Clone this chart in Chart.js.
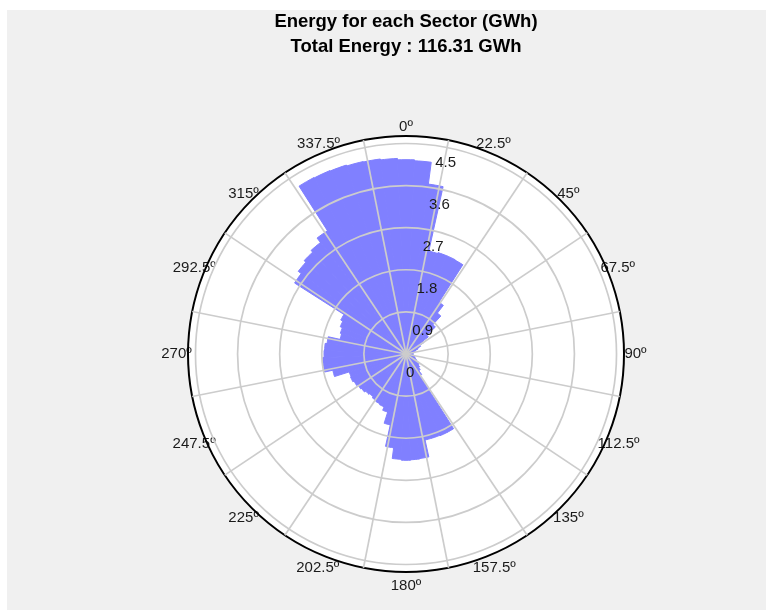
<!doctype html>
<html lang="en">
<head>
  <meta charset="utf-8">
  <title>Energy for each Sector (GWh)</title>
  <script src="https://cdn.jsdelivr.net/npm/chart.js"></script>
  <style>
    html, body { margin: 0; padding: 0; background: #ffffff; }
    #bg { position: absolute; left: 7px; top: 10px; width: 759px; height: 600px; background: #f0f0f0; }
    #wrap { position: absolute; left: 0; top: 0; width: 766px; height: 610px; }
  </style>
</head>
<body>
<div id="bg"></div>
<div id="wrap"><canvas id="rose" width="766" height="610"></canvas></div>
<script>
// 5 degree sectors, clockwise from north
const sectorDeg = [0, 5, 10, 15, 20, 25, 30, 35, 40, 45, 50, 55,
  60, 65, 70, 75, 80, 85, 90, 95, 100, 105, 110, 115,
  120, 125, 130, 135, 140, 145, 150, 155, 160, 165, 170, 175,
  180, 185, 190, 195, 200, 205, 210, 215, 220, 225, 230, 235,
  240, 245, 250, 255, 260, 265, 270, 275, 280, 285, 290, 295,
  300, 305, 310, 315, 320, 325, 330, 335, 340, 345, 350, 355];

// energy per sector (GWh)
const energy = [4.15, 4.13, 3.66, 2.25, 2.27, 2.27, 2.26, 1.31, 1.10, 0.85, 0.60, 0.45,
  0.35, 0.28, 0.22, 0.18, 0.16, 0.15, 0.15, 0.15, 0.16, 0.18, 0.20, 0.22,
  0.25, 0.30, 0.35, 0.40, 0.45, 0.55, 1.89, 1.89, 1.88, 1.88, 2.25, 2.26,
  2.27, 2.25, 2.02, 1.55, 1.30, 1.22, 1.20, 1.18, 1.15, 1.17, 1.20, 1.22,
  1.25, 1.28, 1.27, 1.60, 1.78, 1.78, 1.75, 1.74, 1.70, 1.44, 1.47, 1.52,
  1.57, 2.82, 2.90, 2.95, 3.00, 3.12, 4.25, 4.24, 4.23, 4.21, 4.20, 4.18];

const dirLabels = ['0º', '22.5º', '45º', '67.5º', '90º', '112.5º', '135º', '157.5º',
  '180º', '202.5º', '225º', '247.5º', '270º', '292.5º', '315º', '337.5º'];
const ringTicks = [0, 0.9, 1.8, 2.7, 3.6, 4.5];
const titleLines = ['Energy for each Sector (GWh)', 'Total Energy : 116.31 GWh'];

const rMin = -0.001;
const rMax = 4.66;   // outer black circle
const FONT = "'Liberation Sans', Arial, Helvetica, sans-serif";
const gridGray = '#cccccc';
const barColor = '#8080ff';
const tickValues = ringTicks.concat([rMax]);

// direction labels are centred on a circle (like the original), so work out
// per label how far out Chart.js has to put it, plus blank lines / spaces
const OUTER_R = 220;   // expected radius of the outer circle
const LABEL_R = 231.5; // radius of the label centres
const LABEL_DY = 2;    // labels sit a little low in the original
const LABEL_SIZE = 15;
const LINE = LABEL_SIZE * 1.2;
const mctx = document.createElement('canvas').getContext('2d');
mctx.font = LABEL_SIZE + 'px ' + FONT;
const SPACE = mctx.measureText(' ').width;

function placeLabel(i) {
  const deg = i * 22.5;
  const th = deg * Math.PI / 180;
  const s = Math.sin(th), c = Math.cos(th);
  const w = mctx.measureText(dirLabels[i]).width;
  if (deg === 90 || deg === 270) return { dist: LABEL_R - w / 2, blanks: 0, spaces: 0 };
  if (deg === 0) return { dist: LABEL_R - LINE / 2 - LABEL_DY, blanks: 0, spaces: 0 };
  if (deg === 180) return { dist: LABEL_R - LINE / 2 + LABEL_DY, blanks: 0, spaces: 0 };
  const tx = LABEL_R * s;
  const dy = c > 0 ? LABEL_DY : -LABEL_DY;
  let best = null;
  for (let m = 0; m < 6; m++) {
    const dist = LABEL_R - (LINE * (m + 0.5) + dy) / Math.abs(c);
    const shift = s > 0 ? (tx - w / 2) - s * dist : s * dist - (tx + w / 2);
    const k = Math.max(0, Math.round(shift / SPACE));
    const err = Math.abs(shift - k * SPACE);
    if (!best || err < best.err - 0.5) best = { dist, blanks: m, spaces: k, err };
  }
  return best;
}
const placements = dirLabels.map((_, i) => placeLabel(i));

function labelLines(label, i) {
  const p = placements[i];
  const deg = i * 22.5;
  const text = deg > 0 && deg < 180 ? ' '.repeat(p.spaces) + label
    : deg > 180 ? label + ' '.repeat(p.spaces) : label;
  if (!p.blanks) return text;
  const blanks = new Array(p.blanks).fill('');
  return (deg > 90 && deg < 270) ? blanks.concat([text]) : [text].concat(blanks);
}

function radial(extra) {
  // every radial scale gets the same range and the same (label) fit
  const base = {
    type: 'radialLinear',
    axis: 'r',
    min: rMin,
    max: rMax,
    labels: dirLabels,
    afterBuildTicks: axis => { axis.ticks = tickValues.map(v => ({ value: v })); },
    grid: { display: false },
    angleLines: { display: false },
    ticks: { display: false },
    pointLabels: {
      display: true,
      callback: labelLines,
      padding: ctx => placements[ctx.index].dist - OUTER_R,
      font: { family: FONT, size: LABEL_SIZE, lineHeight: 1.2 },
      color: 'rgba(0,0,0,0)'
    }
  };
  return Object.assign(base, extra);
}

const chart = new Chart(document.getElementById('rose'), {
  type: 'polarArea',
  data: {
    labels: sectorDeg.map(d => d + 'º'),
    datasets: [{
      data: energy,
      rAxisID: 'r',
      backgroundColor: barColor,
      borderColor: barColor,
      borderWidth: 1
    }]
  },
  options: {
    responsive: false,
    animation: false,
    layout: { padding: { left: 46, right: 0, top: 0, bottom: 13.5 } },
    plugins: {
      legend: { display: false },
      tooltip: { enabled: false },
      title: {
        display: true,
        text: titleLines,
        color: '#000000',
        font: { family: FONT, size: 18.5, weight: 'bold', lineHeight: 1.37 },
        padding: { top: 9, bottom: 56.8 }
      }
    },
    scales: {
      // bars
      r: radial({ startAngle: -2.5, backgroundColor: '#ffffff' }),
      // rings, spokes and direction labels, drawn over the bars
      rGrid: radial({
        startAngle: -11.25,
        grid: {
          display: true, circular: true, z: 1,
          color: c => (c.tick && c.tick.value === rMax ? '#000000' : gridGray),
          lineWidth: c => (c.tick && c.tick.value === rMax ? 2 : 1.7)
        },
        angleLines: { display: true, color: gridGray, lineWidth: 1.7 },
        pointLabels: {
          display: true, centerPointLabels: true,
          callback: labelLines,
          padding: ctx => placements[ctx.index].dist - OUTER_R,
          font: { family: FONT, size: LABEL_SIZE, lineHeight: 1.2 },
          color: '#1a1a1a'
        }
      }),
      // ring values
      rTicks: radial({
        startAngle: 0,
        ticks: {
          display: true, z: 2, color: '#1a1a1a',
          font: { family: FONT, size: 15, lineHeight: 1.27 },
          showLabelBackdrop: false,
          backdropPadding: { top: -7.5, bottom: -7.5, left: 0, right: 0 },
          callback: v => {
            if (v > ringTicks[ringTicks.length - 1]) return '';
            const pad = v === 0 ? 2 : Math.round(5 + 3 * v);
            return ['', ' '.repeat(pad) + String(v)];
          }
        }
      })
    }
  }
});
</script>
</body>
</html>
